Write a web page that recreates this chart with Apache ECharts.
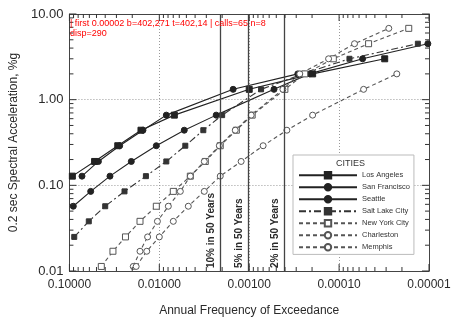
<!DOCTYPE html>
<html><head><meta charset="utf-8">
<script src="https://cdn.jsdelivr.net/npm/echarts@6/dist/echarts.min.js"></script>
<style>html,body{margin:0;padding:0;background:#fff}#c{width:454px;height:326px}#err{position:absolute;left:70px;top:18px;width:220px;font:9px sans-serif;color:red}</style>
</head><body><div id="c"></div><div id="err"></div>
<script>
const dbg = t => document.getElementById('err').textContent += ' | ' + t;
window.onerror = function(m){ dbg('ERR ' + m); };
// ---- data ----
const cityNames = ['Los Angeles','San Francisco','Seattle','Salt Lake City','New York City','Charleston','Memphis'];

const laFreq = [0.0928,0.0525,0.029,0.016,0.00681,0.001,0.000197,0.0000311];
const laSa   = [0.128,0.19,0.29,0.44,0.66,1.32,2.0,3.0];

const sfFreq = [0.0725,0.0476,0.0276,0.0152,0.00836,0.00151,0.000288];
const sfSa   = [0.128,0.19,0.29,0.44,0.66,1.32,2.0];

const seaFreq = [0.0906,0.058,0.0354,0.0205,0.0108,0.00528,0.00233,0.00053,0.000213,0.0000548,0.0000103];
const seaSa   = [0.057,0.085,0.128,0.19,0.29,0.44,0.66,1.32,2.0,3.0,4.5];

const slcFreq = [0.0884,0.0609,0.04,0.0244,0.0141,0.00836,0.00514,0.00324,0.002,0.000738,0.000254,0.0000767,0.0000133];
const slcSa   = [0.025,0.038,0.057,0.085,0.128,0.19,0.29,0.44,0.66,1.32,2.0,3.0,4.5];

const nyFreq = [0.0442,0.0328,0.0238,0.0164,0.0108,0.00699,0.00452,0.00308,0.0021,0.00139,0.000927,0.000401,0.000241,0.000116,0.000047,0.0000168];
const nySa   = [0.0113,0.017,0.025,0.038,0.057,0.085,0.128,0.19,0.29,0.44,0.66,1.32,2.0,3.0,4.5,6.8];

const chsFreq = [0.0195,0.0164,0.0135,0.0105,0.00794,0.00584,0.00452,0.00316,0.00215,0.00143,0.00095,0.000422,0.000274,0.000131,0.0000674,0.000028];
const chsSa   = [0.0113,0.017,0.025,0.038,0.057,0.085,0.128,0.19,0.29,0.44,0.66,1.32,2.0,3.0,4.5,6.8];

const memFreq = [0.0181,0.0138,0.01,0.00699,0.00476,0.00316,0.0021,0.00123,0.0007,0.000381,0.000197,0.0000534,0.0000228];
const memSa   = [0.0113,0.017,0.025,0.038,0.057,0.085,0.128,0.19,0.29,0.44,0.66,1.32,2.0];

const hazardNames = ['10% in 50 Years','5% in 50 Years','2% in 50 Years'];
const hazardFreqs = [0.0021,0.001026,0.000404];

const xDecades = [0.00001,0.0001,0.001,0.01];
const yDecades = [0.01,0.1,1];
const xMajor = [0.1,0.01,0.001,0.0001,0.00001];
const yMajor = [0.01,0.1,1,10];
const minorMult = [2,3,4,5,6,7,8,9];
const xMin = 0.00001, xMax = 0.1, yMin = 0.01, yMax = 10;

// ---- build ----
const pairs = (xs, ys) => xs.map((x, i) => [x, ys[i]]);
const font = 'Liberation Sans, Arial, sans-serif';
const ink = '#2a2a2a';

const tickData = [];
xDecades.forEach(d => minorMult.forEach(m => tickData.push([d*m, yMin, 0, 4])));
yDecades.forEach(d => minorMult.forEach(m => tickData.push([xMax, d*m, 1, 4])));
xMajor.forEach(v => tickData.push([v, yMin, 0, 7]));
yMajor.forEach(v => tickData.push([xMax, v, 1, 7]));

function mk(name, xs, ys, symbol, size, filled, lineType, color) {
  return {
    name, type: 'line', data: pairs(xs, ys), symbol, symbolSize: size,
    showSymbol: true, animation: false,
    lineStyle: { color, width: 1.1, type: lineType },
    itemStyle: { color: filled ? color : '#ffffff', borderColor: color, borderWidth: 1 }
  };
}

const la = mk(cityNames[0], laFreq, laSa, 'rect', 6, true, 'solid', '#222');
la.markLine = {
  silent: true, symbol: 'none', animation: false,
  lineStyle: { color: '#444', width: 1.3, type: 'solid' },
  label: {
    show: true, position: 'insideStartTop', distance: [3, 4],
    color: ink, fontFamily: font, fontSize: 10, fontWeight: 'bold',
    formatter: p => p.name
  },
  data: hazardFreqs.map((f, i) => [
    { coord: [f, yMin], name: hazardNames[i] },
    { coord: [f, yMax] }
  ])
};

let calls = 0;
const tickSeries = {
  type: 'custom', silent: true, animation: false, clip: false, z: 6,
  data: tickData,
  renderItem: function (params, api) {
    calls++;
    const side = api.value(2), len = api.value(3);
    if (side === 0) {
      const v = api.value(0);
      const b = api.coord([v, yMin]), t = api.coord([v, yMax]);
      if (calls === 1) dbg('first ' + v + ' b=' + b.map(Math.round) + ' t=' + t.map(Math.round));
      return { type: 'group', children: [
        { type: 'line', shape: { x1: b[0], y1: b[1], x2: b[0], y2: b[1] - len }, style: { stroke: '#333', lineWidth: 1 } },
        { type: 'line', shape: { x1: t[0], y1: t[1], x2: t[0], y2: t[1] + len }, style: { stroke: '#333', lineWidth: 1 } }
      ]};
    }
    const v = api.value(1);
    const l = api.coord([xMax, v]), r = api.coord([xMin, v]);
    return { type: 'group', children: [
      { type: 'line', shape: { x1: l[0], y1: l[1], x2: l[0] + len, y2: l[1] }, style: { stroke: '#333', lineWidth: 1 } },
      { type: 'line', shape: { x1: r[0], y1: r[1], x2: r[0] - len, y2: r[1] }, style: { stroke: '#333', lineWidth: 1 } }
    ]};
  }
};

const series = [
  la,
  mk(cityNames[1], sfFreq, sfSa, 'circle', 6, true, 'solid', '#222'),
  mk(cityNames[2], seaFreq, seaSa, 'circle', 6, true, 'solid', '#222'),
  mk(cityNames[3], slcFreq, slcSa, 'rect', 5, true, [7,3,2,3], '#333'),
  mk(cityNames[4], nyFreq, nySa, 'rect', 6, false, [4,3], '#555'),
  mk(cityNames[5], chsFreq, chsSa, 'circle', 6, false, [4,3], '#555'),
  mk(cityNames[6], memFreq, memSa, 'circle', 6, false, [4,3], '#555'),
  tickSeries
];

const axisLineStyle = { lineStyle: { color: '#444', width: 1 } };
const option = {
  animation: false,
  title: {
    text: 'CITIES', left: 336, top: 159, padding: 0,
    textStyle: { fontFamily: font, fontSize: 9, fontWeight: 'normal', color: '#333' }
  },
  grid: { left: 66, right: 25, top: 14, bottom: 55 },
  xAxis: [{
    type: 'log', logBase: 10, inverse: true, min: xMin, max: xMax,
    position: 'bottom',
    name: 'Annual Frequency of Exceedance', nameLocation: 'middle', nameGap: 34,
    nameTextStyle: { fontFamily: font, fontSize: 12, color: ink },
    axisLine: axisLineStyle, axisTick: { show: false },
    axisLabel: { fontFamily: font, fontSize: 12, color: ink, margin: 8, formatter: v => Number(v).toFixed(5) },
    splitLine: { show: true, lineStyle: { color: '#999', type: [1, 2], width: 1 } }
  }, {
    type: 'log', logBase: 10, inverse: true, min: xMin, max: xMax, position: 'top',
    axisLine: axisLineStyle, axisTick: { show: false },
    axisLabel: { show: false }, splitLine: { show: false }
  }],
  yAxis: [{
    type: 'log', logBase: 10, min: yMin, max: yMax, position: 'left',
    name: '0.2 sec Spectral Acceleration, %g', nameLocation: 'middle', nameGap: 43,
    nameTextStyle: { fontFamily: font, fontSize: 12, color: ink },
    axisLine: axisLineStyle, axisTick: { show: false },
    axisLabel: { fontFamily: font, fontSize: 13, color: ink, margin: 6, formatter: v => Number(v).toFixed(2) },
    splitLine: { show: true, lineStyle: { color: '#999', type: [1, 2], width: 1 } }
  }, {
    type: 'log', logBase: 10, min: yMin, max: yMax, position: 'right',
    axisLine: axisLineStyle, axisTick: { show: false },
    axisLabel: { show: false }, splitLine: { show: false }
  }],
  legend: {
    data: cityNames, orient: 'vertical', left: 293, top: 155,
    padding: [16, 4, 3, 5],
    itemWidth: 58, itemHeight: 8, itemGap: 3.6,
    backgroundColor: '#ffffff', borderColor: '#bbb', borderWidth: 1,
    textStyle: { fontFamily: font, fontSize: 7.5, color: '#333', lineHeight: 8 },
    selectedMode: false
  },
  series
};
try {
  const chart = echarts.init(document.getElementById('c'), null, { renderer: 'canvas' });
  chart.setOption(option);
  dbg('calls=' + calls + ' n=' + chart.getOption().series.length + ' disp=' + chart.getZr().storage.getDisplayList(true).length);
} catch (e) { dbg('CATCH ' + e.message); }
</script></body></html>
